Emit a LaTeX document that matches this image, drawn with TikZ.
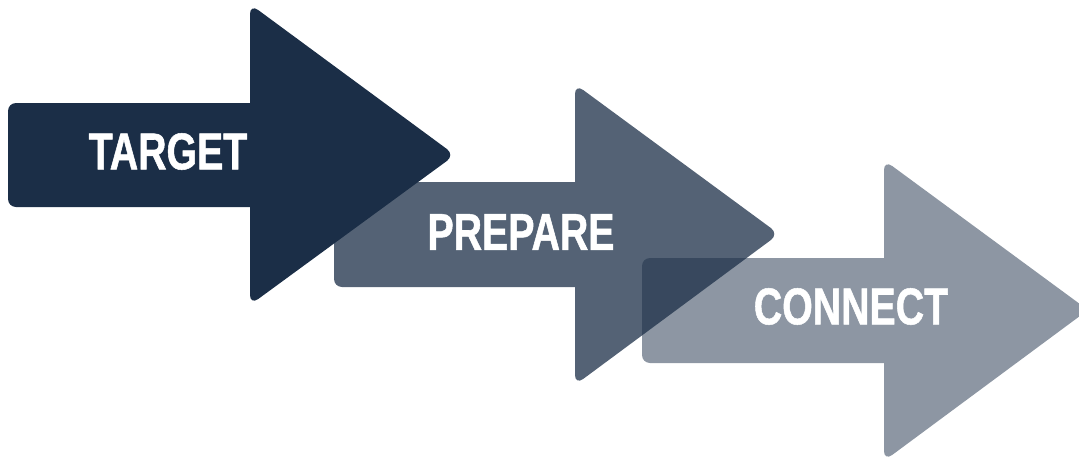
\documentclass[tikz,border=0pt]{standalone}
\usepackage{fontspec}
\newfontfamily\lab{Liberation Sans}[FakeStretch=0.76, FakeBold=1]
\definecolor{navy}{RGB}{27,46,71}
\tikzset{
  arrowshape/.style={fill=navy, draw=none},
  lbl/.style={text=white, font=\lab\bfseries\fontsize{51.7}{55}\selectfont, inner sep=0pt, anchor=center}
}
\begin{document}
\begin{tikzpicture}[x=1pt,y=-1pt]
\clip (0,0) rectangle (1079,458);
% arrow 1
\fill[arrowshape] (250,103) [rounded corners=10] -- (250,4) -- (455,155) -- (250,305) [sharp corners] -- (250,207) [rounded corners=8] -- (8,207) -- (8,103) [sharp corners] -- cycle;
% arrow 2
\fill[arrowshape, fill opacity=0.75] (575,182) [rounded corners=10] -- (575,84) -- (779,234) -- (575,385) [sharp corners] -- (575,287) [rounded corners=8] -- (334,287) -- (334,182) [sharp corners] -- cycle;
% arrow 3
\fill[arrowshape, fill opacity=0.5] (884,258) [rounded corners=10] -- (884,160) -- (1088,310) -- (884,461) [sharp corners] -- (884,363) [rounded corners=8] -- (642,363) -- (642,258) [sharp corners] -- cycle;
\node[lbl] (target) at (168,151.5) {TARGET};
\node[lbl] (prepare) at (521,232) {PREPARE};
\node[lbl] (connect) at (851,306.5) {CONNECT};
\end{tikzpicture}
\end{document}
